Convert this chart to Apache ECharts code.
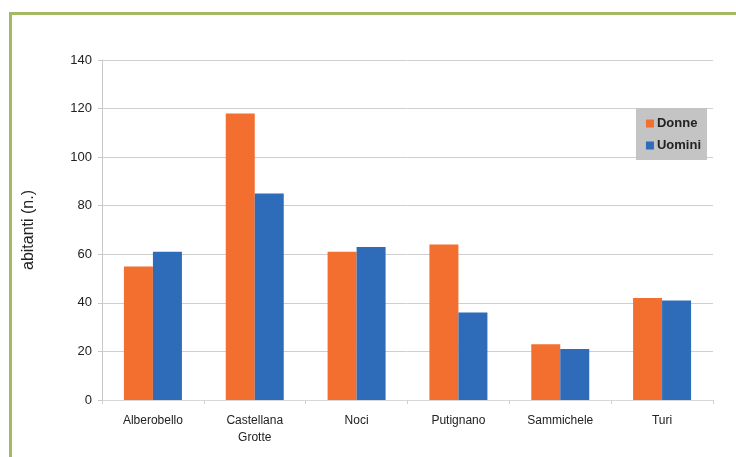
<!DOCTYPE html>
<html>
<head>
<meta charset="utf-8">
<script src="https://cdn.jsdelivr.net/npm/echarts@6/dist/echarts.min.js"></script>
<style>
html,body{margin:0;padding:0;background:#fff;}
#frame{position:absolute;left:9px;top:12px;width:800px;height:500px;border-left:3px solid #a3b963;border-top:3px solid #a3b963;}
#chart{position:absolute;left:0;top:0;width:736px;height:457px;}
</style>
</head>
<body>
<div id="frame"></div>
<div id="chart"></div>
<script>
const categories = ['Alberobello', 'Castellana\nGrotte', 'Noci', 'Putignano', 'Sammichele', 'Turi'];
const donne = [55, 118, 61, 64, 23, 42];
const uomini = [61, 85, 63, 36, 21, 41];
const yTicks = [0, 20, 40, 60, 80, 100, 120, 140];

const chart = echarts.init(document.getElementById('chart'));
chart.setOption({
  animation: false,
  textStyle: { fontFamily: 'Liberation Sans, Arial, sans-serif' },
  grid: { left: 102, right: 23, top: 60, bottom: 57, containLabel: false },
  legend: {
    orient: 'vertical',
    right: 29, top: 108,
    backgroundColor: '#c4c4c4',
    padding: [9, 6, 8, 10],
    itemGap: 9,
    itemWidth: 8, itemHeight: 8,
    icon: 'rect',
    textStyle: { fontWeight: 'bold', fontSize: 13, color: '#222', padding: [0, 0, 0, -2] },
    data: ['Donne', 'Uomini']
  },
  xAxis: {
    type: 'category',
    data: categories,
    axisLine: { show: true, lineStyle: { color: '#d8d8d8' } },
    axisTick: { show: true, length: 4, lineStyle: { color: '#d0d0d0' } },
    axisLabel: { color: '#222', fontSize: 12, margin: 12, lineHeight: 17 }
  },
  yAxis: {
    type: 'value',
    min: yTicks[0], max: yTicks[yTicks.length - 1], interval: 20,
    name: 'abitanti (n.)',
    nameLocation: 'middle',
    nameGap: 65,
    nameRotate: 90,
    nameTextStyle: { fontSize: 16, color: '#222' },
    axisLine: { show: true, lineStyle: { color: '#c8c8c8' } },
    axisTick: { show: true, length: 4, lineStyle: { color: '#c8c8c8' } },
    axisLabel: { color: '#222', fontSize: 13, margin: 10 },
    splitLine: { show: true, lineStyle: { color: '#cfcfcf' } }
  },
  series: [
    { name: 'Donne', type: 'bar', data: donne, barWidth: 29, barGap: '0%', itemStyle: { color: '#f26f2f' } },
    { name: 'Uomini', type: 'bar', data: uomini, barWidth: 29, barGap: '0%', itemStyle: { color: '#2e6bb8' } }
  ]
});
</script>
</body>
</html>
